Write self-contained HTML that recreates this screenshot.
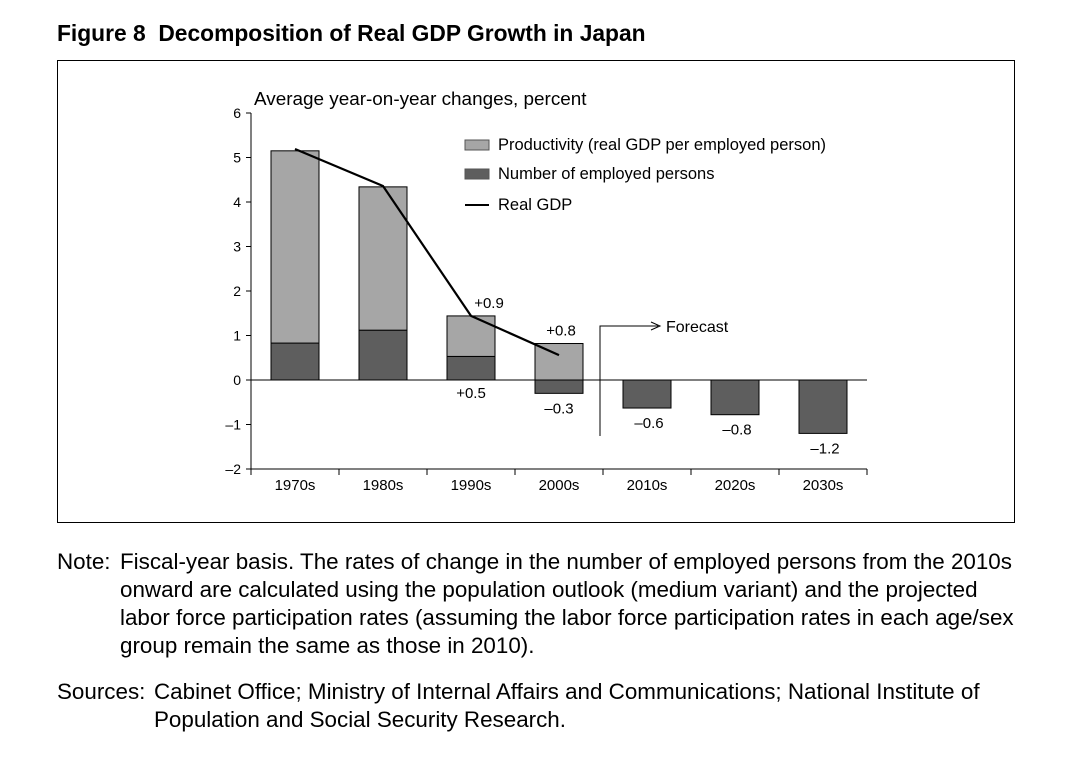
<!DOCTYPE html>
<html><head><meta charset="utf-8"><style>
body{margin:0;background:#fff;width:1070px;height:757px;overflow:hidden;font-family:"Liberation Sans",Arial,sans-serif;}
.title{position:absolute;left:57px;top:20px;font-size:22.8px;font-weight:bold;color:#000;white-space:nowrap;}
.frame{position:absolute;left:57px;top:60px;width:958px;height:463px;border:1px solid #000;box-sizing:border-box;}
.note{position:absolute;font-size:22.4px;line-height:28px;color:#000;white-space:nowrap;}
</style></head><body>
<div class="title">Figure 8&nbsp;&nbsp;Decomposition of Real GDP Growth in Japan</div>
<div class="frame"></div>
<svg id="chart" width="1070" height="757" style="position:absolute;left:0;top:0" font-family="Liberation Sans, Arial, sans-serif"></svg>
<div class="note" style="left:57px;top:548px"><span style="position:absolute;left:0">Note:</span><div style="margin-left:63px">Fiscal-year basis. The rates of change in the number of employed persons from the 2010s<br>onward are calculated using the population outlook (medium variant) and the projected<br>labor force participation rates (assuming the labor force participation rates in each age/sex<br>group remain the same as those in 2010).</div></div>
<div class="note" style="left:57px;top:678px"><span style="position:absolute;left:0">Sources:</span><div style="margin-left:97px">Cabinet Office; Ministry of Internal Affairs and Communications; National Institute of<br>Population and Social Security Research.</div></div>
<script>
const categories=["1970s","1980s","1990s","2000s","2010s","2020s","2030s"];
const productivity=[4.32,3.22,0.91,0.82,0,0,0];
const employed=[0.83,1.12,0.53,-0.3,-0.63,-0.78,-1.2];
const realGDP=[5.19,4.36,1.44,0.56];
const yTicks=[-2,-1,0,1,2,3,4,5,6];
const labels=[null,null,{t:"+0.9",v:1.44,up:true},{t:"+0.8",v:0.82,up:true}];
const empLabels=[null,null,"+0.5","\u20130.3","\u20130.6","\u20130.8","\u20131.2"];
const ns="http://www.w3.org/2000/svg";
const svg=document.getElementById("chart");
const y=v=>380-v*44.5;
const xc=i=>295+i*88;
const bw=48;
function el(tag,a,txt){const e=document.createElementNS(ns,tag);for(const k in a)e.setAttribute(k,a[k]);if(txt!==undefined)e.textContent=txt;svg.appendChild(e);return e;}
let e;
e=el("line",{x1:251,y1:y(6),x2:251,y2:y(-2),stroke:"#000","stroke-width":1});


yTicks.forEach(t=>{
 e=el("line",{x1:246,y1:y(t),x2:251,y2:y(t),stroke:"#000"});
 
 
 e=el("text",{x:241,y:y(t)+5,"text-anchor":"end","font-size":14},t<0?"\u2013"+(-t):String(t));
 
 
});
e=el("text",{x:254,y:105,"font-size":18.9},"Average year-on-year changes, percent");


e=el("line",{x1:251,y1:y(-2),x2:867,y2:y(-2),stroke:"#000"});


for(let i=0;i<=categories.length;i++){
 e=el("line",{x1:251+i*88,y1:y(-2),x2:251+i*88,y2:y(-2)+6,stroke:"#000"});
 
 
}
categories.forEach((c,i)=>{
 e=el("text",{x:xc(i),y:490,"text-anchor":"middle","font-size":15},c);
 
 
 const ev=employed[i];
 e=el("rect",{x:xc(i)-bw/2,y:Math.min(y(0),y(ev)),width:bw,height:Math.abs(y(ev)-y(0)),fill:"#5e5e5e",stroke:"#000","stroke-width":1});
 
 
 const pv=productivity[i];
 if(pv>0){
  const base=Math.max(ev,0);
  e=el("rect",{x:xc(i)-bw/2,y:y(base+pv),width:bw,height:y(base)-y(base+pv),fill:"#a6a6a6",stroke:"#000","stroke-width":1});
  
  
 }
 if(empLabels[i]){
  const yy=ev<0?y(ev)+20:y(0)+18;
  e=el("text",{x:xc(i)+(i>=4?2:0),y:yy,"text-anchor":"middle","font-size":15},empLabels[i]);
  
  
 }
 if(labels[i]){
  e=el("text",{x:xc(i)+(i==2?18:2),y:y(labels[i].v)-8,"text-anchor":"middle","font-size":15},labels[i].t);
  
  
 }
});
e=el("line",{x1:251,y1:y(0),x2:867,y2:y(0),stroke:"#000"});


e=el("polyline",{points:realGDP.map((v,i)=>xc(i)+","+y(v)).join(" "),fill:"none",stroke:"#000","stroke-width":2.2});


e=el("path",{d:"M600,436 V326 H658",fill:"none",stroke:"#000","stroke-width":1});


e=el("path",{d:"M651,322 L660,326 L651,330",fill:"none",stroke:"#000","stroke-width":1});


e=el("text",{x:666,y:332,"font-size":16},"Forecast");


e=el("rect",{x:465,y:140,width:24,height:10,fill:"#a6a6a6",stroke:"#555"});


e=el("text",{x:498,y:150,"font-size":16.5},"Productivity (real GDP per employed person)");


e=el("rect",{x:465,y:169,width:24,height:10,fill:"#5e5e5e",stroke:"#555"});


e=el("text",{x:498,y:179,"font-size":16.5},"Number of employed persons");


e=el("line",{x1:465,y1:205,x2:489,y2:205,stroke:"#000","stroke-width":2});


e=el("text",{x:498,y:210,"font-size":16.5},"Real GDP");


</script>
</body></html>
